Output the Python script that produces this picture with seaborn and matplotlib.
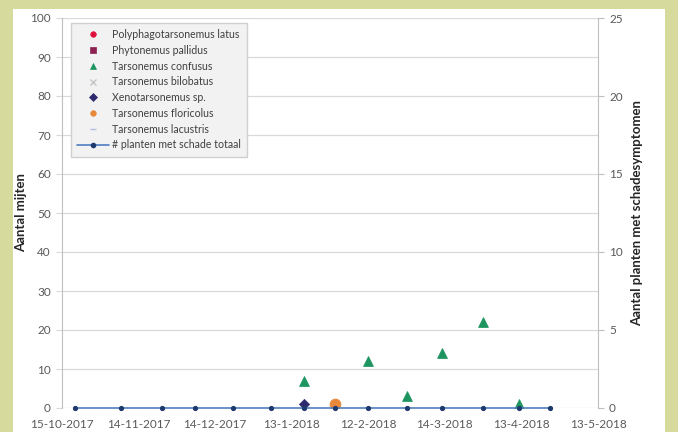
import pandas as pd
import matplotlib.pyplot as plt
from matplotlib.lines import Line2D
from matplotlib.patches import Rectangle
import seaborn as sns

# sampling dates and the plant-damage total (right axis)
sample_dates = ["2017-10-20", "2017-11-07", "2017-11-23", "2017-12-06", "2017-12-21",
                "2018-01-05", "2018-01-18", "2018-01-30", "2018-02-12", "2018-02-27",
                "2018-03-13", "2018-03-29", "2018-04-12", "2018-04-24"]
planten_schade = [0, 0, 0, 0, 0, 0, 0, 0, 0, 0, 0, 0, 0, 0]

# mite counts (left axis)
confusus_dates = ["2018-01-18", "2018-02-12", "2018-02-27", "2018-03-13", "2018-03-29", "2018-04-12"]
confusus_counts = [7, 12, 3, 14, 22, 1]
xeno_dates = ["2018-01-18"]
xeno_counts = [1]
floricolus_dates = ["2018-01-30"]
floricolus_counts = [1]

tick_dates = ["2017-10-15", "2017-11-14", "2017-12-14", "2018-01-13",
              "2018-02-12", "2018-03-14", "2018-04-13", "2018-05-13"]

species = ["Polyphagotarsonemus latus", "Phytonemus pallidus", "Tarsonemus confusus",
           "Tarsonemus bilobatus", "Xenotarsonemus sp.", "Tarsonemus floricolus",
           "Tarsonemus lacustris"]
markers = ["o", "s", "^", "x", "D", "o", "_"]
colors = ["#e0103c", "#8b2252", "#1e9560", "#c4c4c4", "#2e2a6e", "#e8883a", "#b4bce2"]
line_label = "# planten met schade totaal"

sns.set_style("white")
plt.rcParams['font.family'] = ['Lato', 'DejaVu Sans']

fig = plt.figure(figsize=(6.78, 4.32), dpi=100)
fig.patch.set_facecolor("#d6da9c")
fig.patches.append(Rectangle((13 / 678, 0), (665 - 13) / 678, 1 - 9 / 432,
                             transform=fig.transFigure, facecolor="white",
                             edgecolor="none", zorder=-10))

ax = fig.add_axes([62 / 678, 1 - 408 / 432, 536 / 678, 390 / 432])
ax.patch.set_alpha(0)
ax2 = ax.twinx()
ax2.patch.set_alpha(0)

to_dt = lambda s: pd.to_datetime(pd.Series(s))

sns.scatterplot(x=to_dt(confusus_dates), y=confusus_counts, ax=ax, marker="^",
                color=colors[2], s=50, edgecolor=colors[2], zorder=5)
sns.scatterplot(x=to_dt(xeno_dates), y=xeno_counts, ax=ax, marker="D",
                color=colors[4], s=28, edgecolor=colors[4], zorder=5)
sns.scatterplot(x=to_dt(floricolus_dates), y=floricolus_counts, ax=ax, marker="o",
                color=colors[5], s=60, edgecolor=colors[5], zorder=5)

sns.lineplot(x=to_dt(sample_dates), y=planten_schade, ax=ax2, color="#4f7fc0",
             linewidth=1.2, marker="o", markersize=3, markerfacecolor="#1f3a6e",
             markeredgecolor="#1f3a6e", zorder=3, clip_on=False)

ax.set_ylim(0, 100)
ax.set_yticks(range(0, 101, 10))
ax2.set_ylim(0, 25)
ax2.set_yticks(range(0, 26, 5))
ticks = pd.to_datetime(tick_dates)
ax.set_xlim(ticks[0], ticks[-1])
ax.set_xticks(ticks)
ax.set_xticklabels([f"{d.day}-{d.month}-{d.year}" for d in ticks])
ax.set_xlabel("")
ax2.set_xlabel("")

ax.yaxis.grid(True, color="#d9d9d9", linewidth=0.9)
ax2.grid(False)
for a in (ax, ax2):
    for sp in a.spines.values():
        sp.set_visible(False)
    a.tick_params(labelsize=8.5, colors="#595959", length=0, pad=6)
ax.spines["left"].set_visible(True)
ax.spines["left"].set_color("#bfbfbf")
ax2.spines["right"].set_visible(True)
ax2.spines["right"].set_color("#bfbfbf")
ax.tick_params(axis="y", length=4, color="#d9d9d9", pad=4)
ax2.tick_params(axis="y", length=4, color="#bfbfbf", pad=4)
ax.tick_params(axis="x", pad=8)

ax.set_ylabel("Aantal mijten", fontsize=9.5, fontweight="bold", color="#262626", labelpad=2)
ax2.set_ylabel("Aantal planten met schadesymptomen", fontsize=9.5, fontweight="bold",
               color="#262626", labelpad=6)

handles = [Line2D([], [], linestyle="none", marker=m, color=c, markersize=4,
                  markeredgewidth=1 if m in ("x", "_") else 0.5)
           for m, c in zip(markers, colors)]
handles.append(Line2D([], [], color="#4f7fc0", linewidth=1.2, marker="o", markersize=3,
                      markerfacecolor="#1f3a6e", markeredgecolor="#1f3a6e"))
leg = ax2.legend(handles, species + [line_label], loc="upper left",
                 bbox_to_anchor=(0.012, 0.993), fontsize=7.6, frameon=True,
                 facecolor="#f2f2f2", edgecolor="#d0d0d0", framealpha=1,
                 handlelength=3.0, handletextpad=0.3, labelspacing=0.45,
                 borderpad=0.6, borderaxespad=0.2, fancybox=False)
for t in leg.get_texts():
    t.set_color("#404040")

fig.savefig("out.png", dpi=100, facecolor=fig.get_facecolor())
